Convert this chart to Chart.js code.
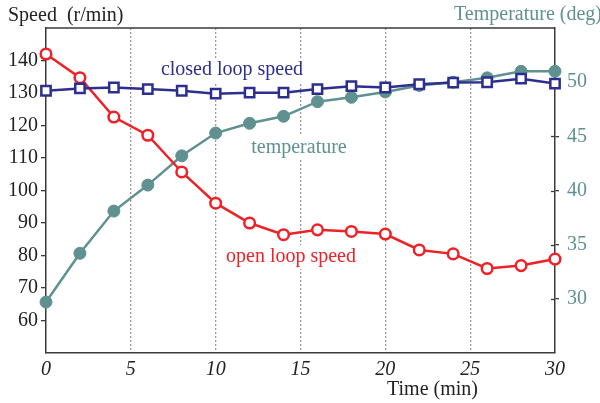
<!DOCTYPE html>
<html>
<head>
<meta charset="utf-8">
<script src="https://cdn.jsdelivr.net/npm/chart.js@4/dist/chart.umd.min.js"></script>
<style>
  html, body { margin: 0; padding: 0; background: #fff; }
  #wrap { width: 600px; height: 403px; }
</style>
</head>
<body>
<div id="wrap"><canvas id="speedChart" width="600" height="403"></canvas></div>
<script>
// data
const times = [0, 2, 4, 6, 8, 10, 12, 14, 16, 18, 20, 22, 24, 26, 28, 30];
const closedLoopSpeed = [130.7, 131.4, 131.7, 131.2, 130.7, 129.8, 130.1, 130.1, 131.2, 132.1, 131.7, 132.7, 133.2, 133.3, 134.4, 132.9];
const openLoopSpeed = [142.0, 134.7, 122.6, 117.0, 105.7, 96.1, 90.0, 86.4, 87.9, 87.4, 86.6, 81.7, 80.5, 76.0, 76.9, 78.9];
const temperature = [29.7, 34.2, 38.1, 40.5, 43.2, 45.3, 46.2, 46.85, 48.2, 48.6, 49.1, 49.7, 50.0, 50.4, 51.0, 51.0];

const xTicks = [0, 5, 10, 15, 20, 25, 30];
const speedTicks = [60, 70, 80, 90, 100, 110, 120, 130, 140];
const tempTicks = [30, 35, 40, 45, 50];

const RED = '#ee2127';
const BLUE = '#2c2f90';
const TEAL = '#5f9190';
const AXIS = '#3a3a3a';
const SERIF = '"Liberation Serif", "DejaVu Serif", serif';

const toPoints = vals => times.map((t, i) => ({ x: t, y: vals[i] }));
const clear = 'rgba(0,0,0,0)';

// labels and frame
const textPlugin = {
    id: 'textPlugin',
    beforeDatasetsDraw(chart) {
        const { ctx, chartArea: a } = chart;
        ctx.save();
        // top frame line
        ctx.strokeStyle = AXIS;
        ctx.lineWidth = 1.5;
        ctx.beginPath();
        ctx.moveTo(a.left, a.top);
        ctx.lineTo(a.right, a.top);
        ctx.stroke();

        // right axis ticks poke a little inside too
        const r = chart.scales.y1;
        ctx.lineWidth = 1.3;
        tempTicks.forEach(v => {
            const py = Math.round(r.getPixelForValue(v)) + 0.5;
            ctx.beginPath();
            ctx.moveTo(a.right - 4, py);
            ctx.lineTo(a.right, py);
            ctx.stroke();
        });

        ctx.font = '20px ' + SERIF;
        ctx.textBaseline = 'middle';
        ctx.textAlign = 'center';
        const labels = [
            ['closed loop speed', 232, 70, BLUE],
            ['temperature', 299, 148, TEAL],
            ['open loop speed', 291, 257, RED]
        ];
        labels.forEach(([txt, x, y, col]) => {
            const w = ctx.measureText(txt).width;
            ctx.fillStyle = '#fff';
            ctx.fillRect(x - w / 2 - 3, y - 12, w + 6, 24);
            ctx.fillStyle = col;
            ctx.fillText(txt, x, y);
        });
        ctx.restore();
    },
    afterDraw(chart) {
        const { ctx } = chart;
        ctx.save();
        ctx.font = '20px ' + SERIF;
        ctx.textBaseline = 'middle';
        ctx.textAlign = 'left';
        ctx.fillStyle = '#222';
        ctx.fillText('Speed  (r/min)', 8, 16);
        ctx.fillText('Time (min)', 387, 390);
        ctx.fillStyle = TEAL;
        ctx.fillText('Temperature (deg)', 454, 15);
        ctx.restore();
    }
};

new Chart(document.getElementById('speedChart'), {
    type: 'line',
    data: {
        datasets: [
            {
                label: 'closed loop speed',
                data: toPoints(closedLoopSpeed),
                yAxisID: 'y',
                order: 0,
                borderColor: BLUE,
                borderWidth: 2.5,
                pointStyle: 'rect',
                pointRadius: 6.6,
                pointBorderWidth: 2.5,
                pointBackgroundColor: '#fff',
                pointBorderColor: BLUE,
                tension: 0,
                clip: false
            },
            {
                label: 'open loop speed',
                data: toPoints(openLoopSpeed),
                yAxisID: 'y',
                order: 1,
                borderColor: RED,
                borderWidth: 2.5,
                pointRadius: 5.3,
                pointBorderWidth: 2.5,
                pointBackgroundColor: '#fff',
                pointBorderColor: RED,
                tension: 0,
                clip: false
            },
            {
                label: 'temperature',
                data: toPoints(temperature),
                yAxisID: 'y1',
                order: 2,
                borderColor: TEAL,
                borderWidth: 2.5,
                pointRadius: 6,
                pointBorderWidth: 1,
                pointBackgroundColor: TEAL,
                pointBorderColor: TEAL,
                tension: 0,
                clip: false
            }
        ]
    },
    options: {
        responsive: false,
        animation: false,
        layout: { padding: { top: 28, left: 0, right: 0, bottom: 0 } },
        plugins: {
            legend: { display: false },
            tooltip: { enabled: false }
        },
        scales: {
            x: {
                type: 'linear',
                min: 0,
                max: 30,
                afterBuildTicks: s => { s.ticks = xTicks.map(v => ({ value: v })); },
                afterFit: s => { s.height = 50; },
                ticks: {
                    color: '#222',
                    padding: 5,
                    font: { family: SERIF, size: 20, style: 'italic' }
                },
                grid: {
                    drawTicks: false,
                    lineWidth: 1.3,
                    color: c => (c.tick && (c.tick.value === 0 || c.tick.value === 30)) ? clear : '#9a9a9a'
                },
                border: { display: true, color: AXIS, width: 1.5, dash: [2, 2] }
            },
            y: {
                position: 'left',
                min: 50,
                max: 150,
                afterBuildTicks: s => { s.ticks = speedTicks.map(v => ({ value: v })); },
                afterFit: s => { s.width = 46; },
                ticks: {
                    color: '#222',
                    padding: 3,
                    font: { family: SERIF, size: 20 }
                },
                grid: {
                    drawOnChartArea: false,
                    tickLength: 5,
                    lineWidth: 1.3,
                    color: AXIS
                },
                border: { display: true, color: AXIS, width: 1.5 }
            },
            y1: {
                position: 'right',
                min: 25,
                max: 55,
                afterBuildTicks: s => { s.ticks = tempTicks.map(v => ({ value: v })); },
                afterFit: s => { s.width = 45; },
                ticks: {
                    color: TEAL,
                    padding: 8,
                    font: { family: SERIF, size: 20 }
                },
                grid: {
                    drawOnChartArea: false,
                    tickLength: 4,
                    lineWidth: 1.3,
                    color: AXIS
                },
                border: { display: true, color: AXIS, width: 1.5 }
            }
        }
    },
    plugins: [textPlugin]
});
</script>
</body>
</html>
